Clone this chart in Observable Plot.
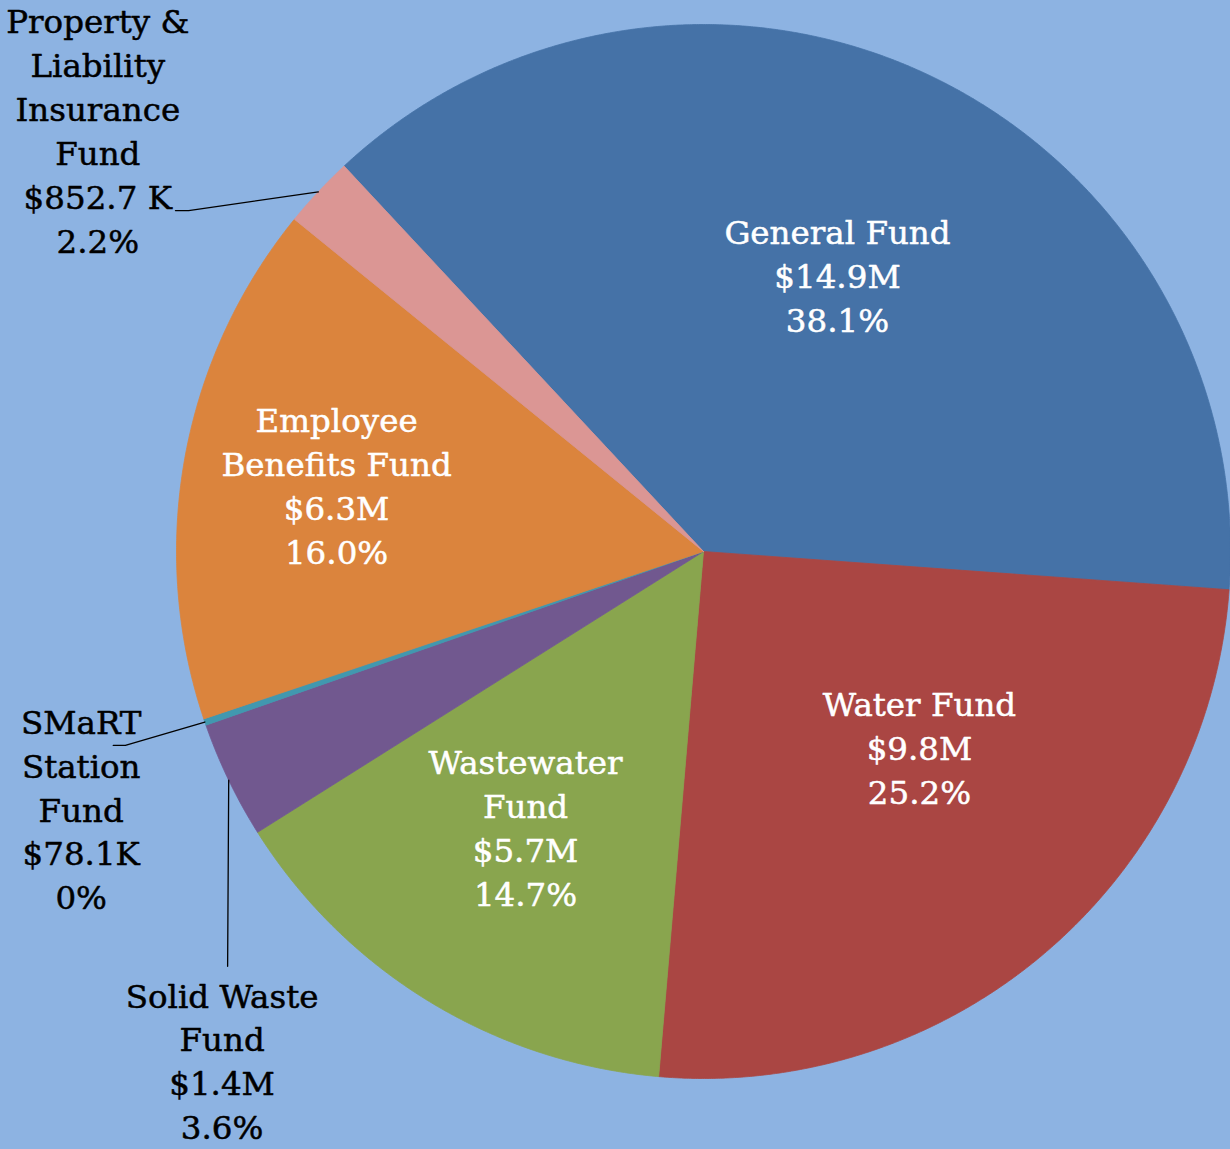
<!DOCTYPE html>
<html><head><meta charset="utf-8">
<script src="https://cdn.jsdelivr.net/npm/d3@7"></script>
<script src="https://cdn.jsdelivr.net/npm/@observablehq/plot@0.6"></script>
<style>
html,body{margin:0;padding:0;background:#8DB3E2;}
#chart svg{display:block;}
</style>
</head><body><div id="chart"></div>
<script>
// ---- data ----
const funds = ["General Fund","Water Fund","Wastewater Fund","Solid Waste Fund","SMaRT Station Fund","Employee Benefits Fund","Property & Liability Insurance Fund"];
const labelNames = ["General Fund","Water Fund","Wastewater\nFund","Solid Waste\nFund","SMaRT\nStation\nFund","Employee\nBenefits Fund","Property &\nLiability\nInsurance\nFund"];
const amounts = ["$14.9M","$9.8M","$5.7M","$1.4M","$78.1K","$6.3M","$852.7 K"];
const shares = [38.1, 25.2, 14.7, 3.6, 0.2, 16.0, 2.2];
const shareLabels = ["38.1%","25.2%","14.7%","3.6%","0%","16.0%","2.2%"];

// ---- style / layout ----
const colors = ["#4572A7","#AA4643","#89A54E","#71588F","#4198AF","#DB843D","#DB9694"];
const labelInside = [true,true,true,false,false,true,false];
// label anchor in polar form: [radius factor, angle deg clockwise from top]
const labelPolar = [[0.580,26.0],[0.555,132.4],[0.625,212.7],[1.332,223.3],[1.279,247.4],[0.707,280.0],[1.398,304.7]];
// leader line starting points (pie-radius units), for outside labels
const leaderStart = {
  "Solid Waste Fund": [[-0.903,-0.787]],
  "SMaRT Station Fund": [[-1.120,-0.368],[-1.097,-0.368]],
  "Property & Liability Insurance Fund": [[-1.002,0.647],[-0.977,0.647]]
};
const W = 1230, H = 1149, cx = 703, cy = 551, R = 527;
const startAngle = -43.0;

const rad = d => d * Math.PI / 180;
const total = d3.sum(shares);
let acc = startAngle;
const slices = funds.map((f, i) => {
  const a0 = acc, a1 = acc + shares[i] / total * 360;
  acc = a1;
  return {fund: f, a0, a1, mid: (a0 + a1) / 2, i};
});

const polyPts = [];
for (const s of slices) {
  polyPts.push({fund: s.fund, x: 0, y: 0});
  const n = Math.max(2, Math.ceil((s.a1 - s.a0) / 0.25));
  for (let k = 0; k <= n; k++) {
    const a = rad(s.a0 + (s.a1 - s.a0) * k / n);
    polyPts.push({fund: s.fund, x: Math.sin(a), y: Math.cos(a)});
  }
  polyPts.push({fund: s.fund, x: 0, y: 0});
}

const labels = slices.map(s => {
  const [r, a] = labelPolar[s.i];
  return {
    fund: s.fund,
    text: `${labelNames[s.i]}\n${amounts[s.i]}\n${shareLabels[s.i]}`,
    x: r * Math.sin(rad(a)), y: r * Math.cos(rad(a)),
    inside: labelInside[s.i]
  };
});

const leaderPts = [];
for (const s of slices) {
  if (!leaderStart[s.fund]) continue;
  for (const [x, y] of leaderStart[s.fund]) leaderPts.push({fund: s.fund, x, y});
  leaderPts.push({fund: s.fund, x: Math.sin(rad(s.mid)), y: Math.cos(rad(s.mid))});
}

const font = "'DejaVu Serif', serif";
const chart = Plot.plot({
  width: W, height: H,
  margin: 0,
  style: {background: "#8DB3E2", fontFamily: font},
  x: {domain: [-cx / R, (W - cx) / R], axis: null},
  y: {domain: [-(H - cy) / R, cy / R], axis: null},
  color: {domain: funds, range: colors},
  marks: [
    Plot.line(polyPts, {x: "x", y: "y", z: "fund", fill: "fund", stroke: "fund", strokeWidth: 0.8, curve: "linear"}),
    Plot.line(leaderPts, {x: "x", y: "y", z: "fund", stroke: "black", strokeWidth: 1.3}),
    Plot.text(labels.filter(d => d.inside), {x: "x", y: "y", text: "text", fill: "white", stroke: "white", strokeWidth: 0.5, fontSize: 32.5, lineHeight: 1.35, dy: -3, textAnchor: "middle"}),
    Plot.text(labels.filter(d => !d.inside), {x: "x", y: "y", text: "text", fill: "black", stroke: "black", strokeWidth: 0.5, fontSize: 32.5, lineHeight: 1.35, dy: -3, textAnchor: "middle"})
  ]
});
document.getElementById("chart").appendChild(chart);
</script>
</body></html>
